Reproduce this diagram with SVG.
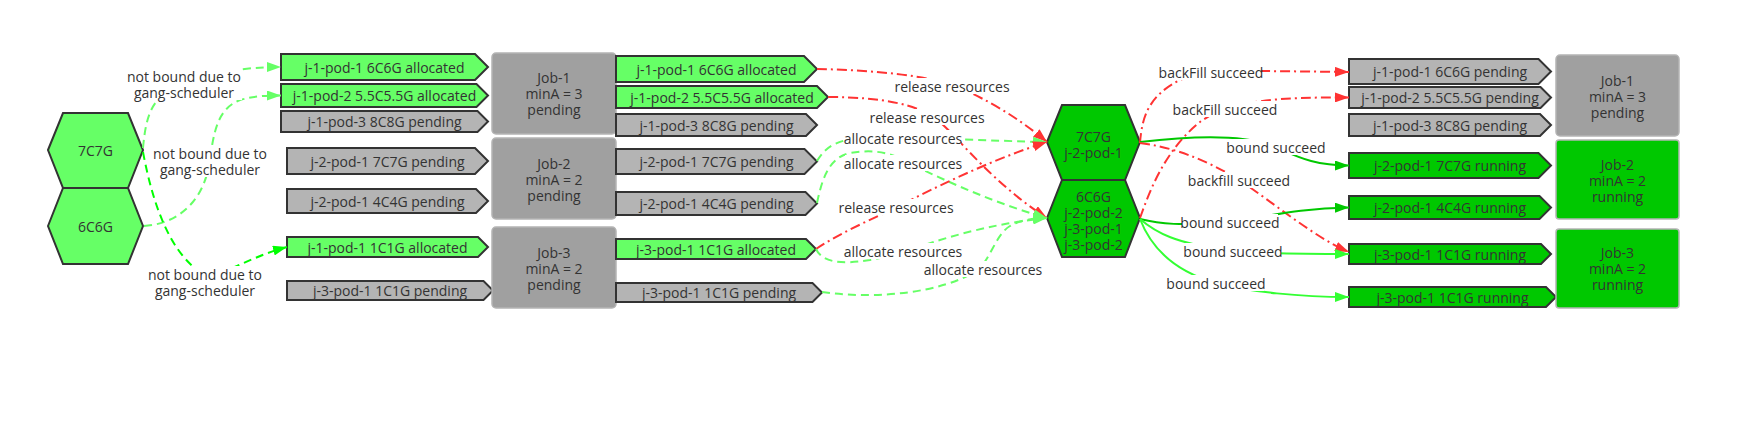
<svg xmlns="http://www.w3.org/2000/svg" width="1740" height="434" viewBox="0 0 1740 434">
<defs>
<style>
text{font-family:"Open Sans","Noto Sans","DejaVu Sans",sans-serif;font-size:14px;fill:#333;text-anchor:middle;dominant-baseline:central}
.pod{stroke:#333;stroke-width:2}
.alloc{fill:#66ff66}
.pend{fill:#b4b4b4}
.run{fill:#00c800}
.job{fill:#a0a0a0;stroke:#b4b4b4;stroke-width:1.5}
.jobrun{fill:#00c800;stroke:#b4b4b4;stroke-width:1.5}
.hex{stroke:#333;stroke-width:2}
.e{fill:none;stroke-width:2}
.lg{stroke:#66ff66;stroke-dasharray:8 5}
.bg{stroke:#00ff00;stroke-dasharray:8 5}
.rd{stroke:#ff3333;stroke-dasharray:10 4 2 4}
.dg{stroke:#00c800}
.mg{stroke:#33ff33}
.lbg{fill:#fff}
</style>
<marker id="aLG" viewBox="0 0 14 10" refX="14" refY="5" markerWidth="14" markerHeight="10" markerUnits="userSpaceOnUse" orient="auto"><path d="M0,0 L14,5 L0,10 z" fill="#66ff66"/></marker>
<marker id="aBG" viewBox="0 0 14 10" refX="14" refY="5" markerWidth="14" markerHeight="10" markerUnits="userSpaceOnUse" orient="auto"><path d="M0,0 L14,5 L0,10 z" fill="#00ff00"/></marker>
<marker id="aRD" viewBox="0 0 14 10" refX="14" refY="5" markerWidth="14" markerHeight="10" markerUnits="userSpaceOnUse" orient="auto"><path d="M0,0 L14,5 L0,10 z" fill="#ff3333"/></marker>
<marker id="aDG" viewBox="0 0 14 10" refX="14" refY="5" markerWidth="14" markerHeight="10" markerUnits="userSpaceOnUse" orient="auto"><path d="M0,0 L14,5 L0,10 z" fill="#00c800"/></marker>
<marker id="aMG" viewBox="0 0 14 10" refX="14" refY="5" markerWidth="14" markerHeight="10" markerUnits="userSpaceOnUse" orient="auto"><path d="M0,0 L14,5 L0,10 z" fill="#33ff33"/></marker>
</defs>
<rect width="1740" height="434" fill="#fff"/>

<!-- left hexes -->
<g id="hex-7c7g-left"><polygon class="hex" fill="#66ff66" points="48,150 63,113 128,113 143,150 128,188 63,188"/><text x="95.5" y="150">7C7G</text></g>
<g id="hex-6c6g-left"><polygon class="hex" fill="#66ff66" points="48,226 63,188 128,188 143,226 128,264 63,264"/><text x="95.5" y="226">6C6G</text></g>

<!-- column 1 pods -->
<g id="p1a"><polygon class="pod alloc" points="281,54 475,54 488,67 475,80 281,80"/><text x="384.5" y="67">j-1-pod-1 6C6G allocated</text></g>
<g id="p1b"><polygon class="pod alloc" points="281,84 476.5,84 488,95.5 476.5,107 281,107"/><text x="384.5" y="95.5">j-1-pod-2 5.5C5.5G allocated</text></g>
<g id="p1c"><polygon class="pod pend" points="281,111 477.5,111 488,121.5 477.5,132 281,132"/><text x="384.5" y="121.5">j-1-pod-3 8C8G pending</text></g>
<g id="p1d"><polygon class="pod pend" points="287,148 475,148 488,161 475,174 287,174"/><text x="387.5" y="161">j-2-pod-1 7C7G pending</text></g>
<g id="p1e"><polygon class="pod pend" points="287,189 476,189 488,201 476,213 287,213"/><text x="387.5" y="201">j-2-pod-1 4C4G pending</text></g>
<g id="p1f"><polygon class="pod alloc" points="287,237 478,237 488,247 478,257 287,257"/><text x="387.5" y="247">j-1-pod-1 1C1G allocated</text></g>
<g id="p1g"><polygon class="pod pend" points="287,281 483.5,281 493,290.5 483.5,300 287,300"/><text x="390" y="290.5">j-3-pod-1 1C1G pending</text></g>

<!-- left jobs -->
<g id="job1-left"><rect class="job" x="492" y="53" width="124" height="81" rx="4"/><text x="554" y="77.5">Job-1</text><text x="554" y="93.5">minA = 3</text><text x="554" y="109.5">pending</text></g>
<g id="job2-left"><rect class="job" x="492" y="138" width="124" height="81" rx="4"/><text x="554" y="163">Job-2</text><text x="554" y="179">minA = 2</text><text x="554" y="195">pending</text></g>
<g id="job3-left"><rect class="job" x="492" y="227" width="124" height="81" rx="4"/><text x="554" y="252">Job-3</text><text x="554" y="268">minA = 2</text><text x="554" y="284">pending</text></g>

<!-- column 2 pods -->
<g id="p2a"><polygon class="pod alloc" points="616,56 804,56 817,69 804,82 616,82"/><text x="716.5" y="69">j-1-pod-1 6C6G allocated</text></g>
<g id="p2b"><polygon class="pod alloc" points="616,86 817,86 828,97 817,108 616,108"/><text x="722" y="97">j-1-pod-2 5.5C5.5G allocated</text></g>
<g id="p2c"><polygon class="pod pend" points="616,114 806,114 817,125 806,136 616,136"/><text x="716.5" y="125">j-1-pod-3 8C8G pending</text></g>
<g id="p2d"><polygon class="pod pend" points="616,149 804.5,149 817,161.5 804.5,174 616,174"/><text x="716.5" y="161.5">j-2-pod-1 7C7G pending</text></g>
<g id="p2e"><polygon class="pod pend" points="616,192 805.5,192 817,203.5 805.5,215 616,215"/><text x="716.5" y="203.5">j-2-pod-1 4C4G pending</text></g>
<g id="p2f"><polygon class="pod alloc" points="616,239 806,239 816,249 806,259 616,259"/><text x="716" y="249">j-3-pod-1 1C1G allocated</text></g>
<g id="p2g"><polygon class="pod pend" points="616,283 812.5,283 822,292.5 812.5,302 616,302"/><text x="719" y="292.5">j-3-pod-1 1C1G pending</text></g>

<!-- center hexes -->
<g id="hex-7c7g-center"><polygon class="hex run" points="1047,142 1062,105 1125,105 1140,142 1125,180 1062,180"/><text x="1093.5" y="136">7C7G</text><text x="1093.5" y="152">j-2-pod-1</text></g>
<g id="hex-6c6g-center"><polygon class="hex run" points="1047,218 1062,180 1125,180 1140,218 1125,257 1062,257"/><text x="1093.5" y="196">6C6G</text><text x="1093.5" y="212">j-2-pod-2</text><text x="1093.5" y="228">j-3-pod-1</text><text x="1093.5" y="244">j-3-pod-2</text></g>

<!-- right pods -->
<g id="r1"><polygon class="pod pend" points="1349,59 1538.5,59 1551,71.5 1538.5,84 1349,84"/><text x="1450" y="71.5">j-1-pod-1 6C6G pending</text></g>
<g id="r2"><polygon class="pod pend" points="1349,87 1540.5,87 1551,97.5 1540.5,108 1349,108"/><text x="1450" y="97.5">j-1-pod-2 5.5C5.5G pending</text></g>
<g id="r3"><polygon class="pod pend" points="1349,114 1540,114 1551,125 1540,136 1349,136"/><text x="1450" y="125">j-1-pod-3 8C8G pending</text></g>
<g id="r4"><polygon class="pod run" points="1349,153 1538.5,153 1551,165.5 1538.5,178 1349,178"/><text x="1450" y="165.5">j-2-pod-1 7C7G running</text></g>
<g id="r5"><polygon class="pod run" points="1349,196 1539.5,196 1551,207.5 1539.5,219 1349,219"/><text x="1450" y="207.5">j-2-pod-1 4C4G running</text></g>
<g id="r6"><polygon class="pod run" points="1349,244 1541,244 1551,254 1541,264 1349,264"/><text x="1450" y="254">j-3-pod-1 1C1G running</text></g>
<g id="r7"><polygon class="pod run" points="1349,287 1546,287 1556,297 1546,307 1349,307"/><text x="1452.5" y="297">j-3-pod-1 1C1G running</text></g>

<!-- right jobs -->
<g id="job1-right"><rect class="job" x="1556" y="55" width="123" height="81" rx="4"/><text x="1617.5" y="80">Job-1</text><text x="1617.5" y="96">minA = 3</text><text x="1617.5" y="112">pending</text></g>
<g id="job2-right"><rect class="jobrun" x="1556" y="140" width="123" height="79" rx="3"/><text x="1617.5" y="164">Job-2</text><text x="1617.5" y="180">minA = 2</text><text x="1617.5" y="196">running</text></g>
<g id="job3-right"><rect class="jobrun" x="1556" y="229" width="123" height="79" rx="3"/><text x="1617.5" y="252.5">Job-3</text><text x="1617.5" y="268.5">minA = 2</text><text x="1617.5" y="284.5">running</text></g>

<!-- connectors -->
<g id="connectors">
<path class="e lg" marker-end="url(#aLG)" d="M143,148 C146,115 152,98 175,88 C205,74 240,67 281,67"/>
<path class="e lg" marker-end="url(#aLG)" d="M144,226 C175,224 200,205 208,170 C214,135 215,110 240,100 C255,96 265,95.5 281,95.5"/>
<path class="e bg" marker-end="url(#aBG)" d="M143,152 C152,200 168,250 200,272 C220,280 245,258 287,247"/>
<path class="e rd" marker-end="url(#aRD)" d="M817,69 C870,70 930,75 960,88 C985,99 1015,115 1047,142"/>
<path class="e rd" marker-end="url(#aRD)" d="M828,97 C880,97 920,104 940,122 C960,140 995,185 1047,218"/>
<path class="e lg" marker-end="url(#aLG)" d="M817,161 C826,146 838,139 865,138 C920,137 990,141 1047,142"/>
<path class="e lg" marker-end="url(#aLG)" d="M817,203 C822,180 828,158 850,153 C880,148 895,155 915,166 C950,183 1000,205 1047,218"/>
<path class="e rd" marker-end="url(#aRD)" d="M816,249 C840,233 870,220 897,207 C930,190 990,160 1047,142"/>
<path class="e lg" marker-end="url(#aLG)" d="M816,249 C822,262 840,265 870,260 C900,254 920,246 940,240 C980,228 1010,222 1047,218"/>
<path class="e lg" marker-end="url(#aLG)" d="M822,292 C880,300 940,292 975,272 C990,262 995,235 1010,226 C1020,220 1035,218 1047,218"/>
<path class="e rd" marker-end="url(#aRD)" d="M1140,143 C1142,115 1150,95 1180,80 C1200,72 1230,70 1262,71 L1349,72"/>
<path class="e rd" marker-end="url(#aRD)" d="M1140,218 C1150,190 1165,150 1200,122 C1230,100 1280,97 1349,97.5"/>
<path class="e dg" marker-end="url(#aDG)" d="M1140,142 C1190,136 1240,134 1270,145 C1295,155 1310,165.5 1349,165.5"/>
<path class="e rd" marker-end="url(#aRD)" d="M1140,143 C1180,148 1215,165 1239,180 C1270,200 1315,238 1349,252"/>
<path class="e dg" marker-end="url(#aDG)" d="M1140,219 C1160,224 1180,226 1230,222 C1270,216 1300,208 1349,207.5"/>
<path class="e mg" marker-end="url(#aMG)" d="M1140,219 C1155,232 1175,244 1233,251 C1270,254 1310,254 1349,254"/>
<path class="e mg" marker-end="url(#aMG)" d="M1140,219 C1150,245 1170,270 1216,283 C1250,292 1300,297 1349,297"/>

<!-- labels -->
<rect class="lbg" x="126" y="68" width="116" height="32"/><text x="184" y="76">not bound due to</text><text x="184" y="92">gang-scheduler</text>
<rect class="lbg" x="152" y="145" width="116" height="32"/><text x="210" y="153">not bound due to</text><text x="210" y="169">gang-scheduler</text>
<rect class="lbg" x="147" y="266" width="116" height="32"/><text x="205" y="274">not bound due to</text><text x="205" y="290">gang-scheduler</text>
<rect class="lbg" x="896" y="78" width="112" height="16"/><text x="952" y="86">release resources</text>
<rect class="lbg" x="871" y="109" width="112" height="16"/><text x="927" y="117">release resources</text>
<rect class="lbg" x="845" y="130" width="116" height="16"/><text x="903" y="138">allocate resources</text>
<rect class="lbg" x="845" y="155" width="116" height="16"/><text x="903" y="163">allocate resources</text>
<rect class="lbg" x="840" y="199" width="112" height="16"/><text x="896" y="207">release resources</text>
<rect class="lbg" x="845" y="243" width="116" height="16"/><text x="903" y="251">allocate resources</text>
<rect class="lbg" x="925" y="261" width="116" height="16"/><text x="983" y="269">allocate resources</text>
<rect class="lbg" x="1161" y="64" width="100" height="16"/><text x="1211" y="72">backFill succeed</text>
<rect class="lbg" x="1175" y="101" width="100" height="16"/><text x="1225" y="109">backFill succeed</text>
<rect class="lbg" x="1228" y="139" width="96" height="16"/><text x="1276" y="147">bound succeed</text>
<rect class="lbg" x="1190" y="172" width="98" height="16"/><text x="1239" y="180">backfill succeed</text>
<rect class="lbg" x="1182" y="214" width="96" height="16"/><text x="1230" y="222">bound succeed</text>
<rect class="lbg" x="1185" y="243" width="96" height="16"/><text x="1233" y="251">bound succeed</text>
<rect class="lbg" x="1168" y="275" width="96" height="16"/><text x="1216" y="283">bound succeed</text>
</g>
</svg>
